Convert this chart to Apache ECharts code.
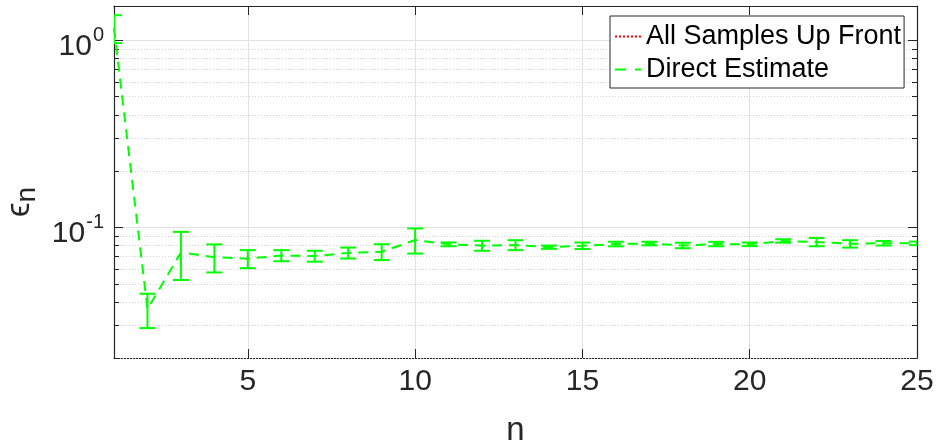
<!DOCTYPE html>
<html>
<head>
<meta charset="utf-8">
<script src="https://cdn.jsdelivr.net/npm/echarts@6/dist/echarts.min.js"></script>
<style>
  html, body { margin: 0; padding: 0; background: #ffffff; }
  #chart { width: 938px; height: 447px; }
</style>
</head>
<body>
<div id="chart"></div>
<script>
// Sample count n
const nValues = [1, 2, 3, 4, 5, 6, 7, 8, 9, 10, 11, 12, 13, 14, 15, 16, 17, 18, 19, 20, 21, 22, 23, 24, 25];
// Direct estimate of epsilon_n (mean) and its error half-width
const directMean = [1.16, 0.0365, 0.0733, 0.0691, 0.0679, 0.0706, 0.0701, 0.0729, 0.0739, 0.0854,
                    0.0810, 0.0797, 0.0803, 0.0782, 0.0796, 0.0813, 0.0818, 0.0799, 0.0813, 0.0810,
                    0.0844, 0.0833, 0.0815, 0.0821, 0.0820];
const directErr = [0.197, 0.0076, 0.0211, 0.0118, 0.0075, 0.0048, 0.0047, 0.0049, 0.0072, 0.0131,
                   0.0019, 0.0049, 0.0049, 0.0016, 0.0032, 0.0023, 0.0018, 0.0027, 0.0022, 0.0018,
                   0.0018, 0.0042, 0.0037, 0.0023, 0.0018];
// "All Samples Up Front" has no visible points in this view
const upFrontMean = [];

// Axis ticks
const xTicks = [5, 10, 15, 20, 25];
const yMinorTicks = [0.02, 0.03, 0.04, 0.05, 0.06, 0.07, 0.08, 0.09,
                     0.2, 0.3, 0.4, 0.5, 0.6, 0.7, 0.8, 0.9];
const xRange = [1, 25];
const yRange = [0.02, 1.52];

const FONT = '"Liberation Sans", Arial, Helvetica, sans-serif';
const AXIS_COLOR = '#262626';
const GRID_COLOR = '#e2e2e2';
const MINOR_GRID_COLOR = '#d2d2d2';
const GREEN = '#00ff00';

// legend glyphs: a dotted and a dashed line sample
const DOTTED_ICON = 'path://M0 0h2v2h-2zM4 0h2v2h-2zM8 0h2v2h-2zM12 0h2v2h-2zM16 0h2v2h-2zM20 0h2v2h-2zM24 0h2v2h-2z';
const DASHED_ICON = 'path://M0 0h11v2h-11zM20 0h6v2h-6z';

const chart = echarts.init(document.getElementById('chart'), null, { renderer: 'canvas' });

function powerLabel(value) {
  const p = Math.log10(value);
  const r = Math.round(p);
  if (Math.abs(p - r) > 1e-6) return '';
  return '{b|10}{s|' + r + '}';
}

const yAxisBase = {
  type: 'log',
  logBase: 10,
  min: yRange[0],
  max: yRange[1],
  axisLine: { show: true, lineStyle: { color: AXIS_COLOR, width: 1.2 } },
  axisTick: { show: true, inside: true, length: 9, lineStyle: { color: AXIS_COLOR, width: 1 } },
  minorTick: { show: false },
  minorSplitLine: { show: false }
};

const option = {
  backgroundColor: '#ffffff',
  animation: false,
  grid: { left: 114, right: 21, top: 6, bottom: 89, containLabel: false, outerBoundsMode: 'none' },
  legend: {
    orient: 'vertical',
    left: 610,
    top: 16,
    padding: [7, 3, 5, 5],
    itemGap: 6,
    itemWidth: 26,
    itemHeight: 2,
    backgroundColor: '#ffffff',
    borderColor: AXIS_COLOR,
    borderWidth: 1,
    borderRadius: 0,
    selectedMode: false,
    textStyle: { fontSize: 27, color: '#000000', fontFamily: FONT },
    data: [
      { name: 'All Samples Up Front', icon: DOTTED_ICON },
      { name: 'Direct Estimate', icon: DASHED_ICON }
    ]
  },
  xAxis: [
    {
      type: 'value',
      min: xRange[0],
      max: xRange[1],
      name: 'n',
      nameLocation: 'middle',
      nameGap: 56,
      nameTextStyle: { fontSize: 33, color: AXIS_COLOR, fontFamily: FONT },
      axisLine: { show: true, onZero: false, lineStyle: { color: AXIS_COLOR, width: 1.2 } },
      axisTick: { show: true, inside: true, length: 9, customValues: xTicks, lineStyle: { color: AXIS_COLOR } },
      axisLabel: { customValues: xTicks, fontSize: 30, margin: 9, color: AXIS_COLOR, fontFamily: FONT },
      splitLine: { show: true, lineStyle: { color: GRID_COLOR, width: 1 } }
    },
    {
      type: 'value',
      position: 'top',
      min: xRange[0],
      max: xRange[1],
      axisLine: { show: true, onZero: false, lineStyle: { color: AXIS_COLOR, width: 1.2 } },
      axisTick: { show: true, inside: true, length: 9, customValues: xTicks, lineStyle: { color: AXIS_COLOR } },
      axisLabel: { show: false },
      splitLine: { show: false }
    }
  ],
  yAxis: [
    Object.assign({}, yAxisBase, {
      position: 'left',
      name: '{e|ϵ}{s|n}',
      nameLocation: 'middle',
      nameGap: 72,
      nameRotate: 90,
      nameTextStyle: {
        color: AXIS_COLOR,
        fontFamily: FONT,
        padding: [0, 40, 0, 0],
        rich: {
          e: { fontSize: 33, fontFamily: FONT, color: AXIS_COLOR },
          s: { fontSize: 28, fontFamily: FONT, color: AXIS_COLOR, padding: [14, 0, 0, 0] }
        }
      },
      splitLine: { show: true, lineStyle: { color: GRID_COLOR, width: 1 } },
      axisLabel: {
        show: true,
        showMinLabel: false,
        showMaxLabel: false,
        margin: 10,
        formatter: powerLabel,
        color: AXIS_COLOR,
        rich: {
          b: { fontSize: 30, fontFamily: FONT, color: AXIS_COLOR, padding: [13, 0, 0, 0] },
          s: { fontSize: 20, fontFamily: FONT, color: AXIS_COLOR, padding: [0, 0, 10, 1] }
        }
      }
    }),
    Object.assign({}, yAxisBase, {
      position: 'right',
      splitLine: { show: false },
      axisLabel: { show: false }
    })
  ],
  series: [
    {
      // minor decade grid lines and their ticks on both sides
      type: 'custom',
      name: 'minor-grid',
      silent: true,
      z: 1,
      xAxisIndex: 0,
      yAxisIndex: 0,
      data: yMinorTicks.map(v => [xRange[0], v]),
      encode: { x: 0, y: 1 },
      renderItem: function (params, api) {
        const v = api.value(1);
        const l = api.coord([xRange[0], v]);
        const r = api.coord([xRange[1], v]);
        const y = Math.round(l[1]) + 0.5;
        return {
          type: 'group',
          children: [
            { type: 'line', shape: { x1: l[0], y1: y, x2: r[0], y2: y },
              style: { stroke: MINOR_GRID_COLOR, lineWidth: 1, lineDash: [1, 2] } },
            { type: 'line', shape: { x1: l[0], y1: y, x2: l[0] + 5, y2: y },
              style: { stroke: AXIS_COLOR, lineWidth: 1 } },
            { type: 'line', shape: { x1: r[0] - 5, y1: y, x2: r[0], y2: y },
              style: { stroke: AXIS_COLOR, lineWidth: 1 } }
          ]
        };
      }
    },
    {
      name: 'All Samples Up Front',
      type: 'line',
      data: upFrontMean,
      symbol: 'none',
      lineStyle: { color: '#ff0000', width: 2, type: 'dotted' },
      itemStyle: { color: '#ff0000' }
    },
    {
      name: 'Direct Estimate',
      type: 'line',
      z: 3,
      data: nValues.map((x, i) => [x, directMean[i]]),
      symbol: 'none',
      clip: true,
      lineStyle: { color: GREEN, width: 2, type: [10, 7] },
      itemStyle: { color: GREEN }
    },
    {
      // error bars for the direct estimate
      type: 'custom',
      name: 'Direct Estimate',
      z: 4,
      clip: true,
      data: nValues.map((x, i) => [x, directMean[i], directErr[i]]),
      encode: { x: 0, y: 1 },
      renderItem: function (params, api) {
        const x = api.value(0);
        const m = api.value(1);
        const e = api.value(2);
        const top = api.coord([x, m + e]);
        const bot = api.coord([x, m - e]);
        const hw = 8;
        const style = { stroke: GREEN, lineWidth: 2 };
        return {
          type: 'group',
          children: [
            { type: 'line', shape: { x1: top[0], y1: top[1], x2: bot[0], y2: bot[1] }, style: style },
            { type: 'line', shape: { x1: top[0] - hw, y1: top[1], x2: top[0] + hw, y2: top[1] }, style: style },
            { type: 'line', shape: { x1: bot[0] - hw, y1: bot[1], x2: bot[0] + hw, y2: bot[1] }, style: style }
          ]
        };
      }
    }
  ]
};

chart.setOption(option);
</script>
</body>
</html>
